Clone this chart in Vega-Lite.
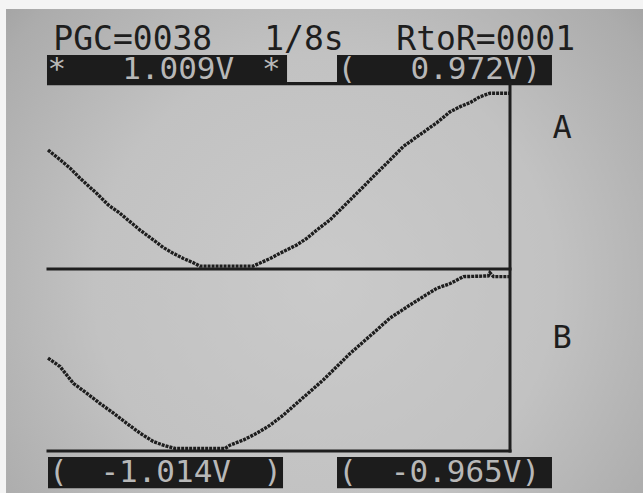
{
  "$schema": "https://vega.github.io/schema/vega-lite/v6.json",
  "width": 462,
  "height": 364,
  "autosize": {"type": "none"},
  "padding": {"left": 48, "top": 87, "right": 133, "bottom": 42},
  "background": "#f4f4f4",
  "config": {"view": {"stroke": null}},
  "data": {"values": [{"screen": "LCD"}]},
  "datasets": {
    "traces": [
      {"ch": "A", "t": 0, "v": 82.7}, {"ch": "A", "t": 2.6, "v": 80.4}, {"ch": "A", "t": 5.5, "v": 77.7},
      {"ch": "A", "t": 8, "v": 74.9}, {"ch": "A", "t": 12.1, "v": 70.8}, {"ch": "A", "t": 15, "v": 67.6},
      {"ch": "A", "t": 17.9, "v": 65.3}, {"ch": "A", "t": 20.4, "v": 63.0}, {"ch": "A", "t": 22.9, "v": 60.7},
      {"ch": "A", "t": 26.2, "v": 58.0}, {"ch": "A", "t": 28.7, "v": 55.9}, {"ch": "A", "t": 31.2, "v": 54.3},
      {"ch": "A", "t": 33.7, "v": 52.9}, {"ch": "A", "t": 36.2, "v": 51.7}, {"ch": "A", "t": 37.8, "v": 50.8},
      {"ch": "A", "t": 51.1, "v": 50.8}, {"ch": "A", "t": 55.3, "v": 52.9}, {"ch": "A", "t": 58.6, "v": 54.8},
      {"ch": "A", "t": 61.9, "v": 56.6}, {"ch": "A", "t": 64.4, "v": 58.4}, {"ch": "A", "t": 66.9, "v": 60.7},
      {"ch": "A", "t": 70.2, "v": 63.5}, {"ch": "A", "t": 73.5, "v": 67.1}, {"ch": "A", "t": 78.5, "v": 72.6},
      {"ch": "A", "t": 81.8, "v": 76.3}, {"ch": "A", "t": 85.1, "v": 79.9}, {"ch": "A", "t": 88.4, "v": 83.6},
      {"ch": "A", "t": 91.8, "v": 86.3}, {"ch": "A", "t": 96.8, "v": 90.2}, {"ch": "A", "t": 100.1, "v": 93.2},
      {"ch": "A", "t": 102.6, "v": 94.6}, {"ch": "A", "t": 105, "v": 95.7}, {"ch": "A", "t": 107.5, "v": 97.3},
      {"ch": "A", "t": 110, "v": 98.3}, {"ch": "A", "t": 115, "v": 98.3},
      {"ch": "B", "t": 0, "v": 25.5}, {"ch": "B", "t": 3, "v": 23.2}, {"ch": "B", "t": 6.3, "v": 18.6},
      {"ch": "B", "t": 9.6, "v": 15.9}, {"ch": "B", "t": 12.9, "v": 13.1}, {"ch": "B", "t": 16.3, "v": 10.4},
      {"ch": "B", "t": 19.6, "v": 7.6}, {"ch": "B", "t": 22.9, "v": 4.9}, {"ch": "B", "t": 26.2, "v": 2.6},
      {"ch": "B", "t": 28.7, "v": 1.6}, {"ch": "B", "t": 31.6, "v": 0.7}, {"ch": "B", "t": 44.1, "v": 0.7},
      {"ch": "B", "t": 45.3, "v": 1.6}, {"ch": "B", "t": 48.6, "v": 3.0}, {"ch": "B", "t": 52, "v": 4.9},
      {"ch": "B", "t": 55.3, "v": 7.1}, {"ch": "B", "t": 58.6, "v": 9.9}, {"ch": "B", "t": 61.9, "v": 13.1},
      {"ch": "B", "t": 65.2, "v": 16.3}, {"ch": "B", "t": 68.5, "v": 19.5}, {"ch": "B", "t": 71.9, "v": 23.2},
      {"ch": "B", "t": 75.2, "v": 26.8}, {"ch": "B", "t": 78.5, "v": 30.0}, {"ch": "B", "t": 81.8, "v": 33.2},
      {"ch": "B", "t": 85.1, "v": 36.5}, {"ch": "B", "t": 90.1, "v": 40.1}, {"ch": "B", "t": 93.4, "v": 42.4},
      {"ch": "B", "t": 96.8, "v": 44.7}, {"ch": "B", "t": 100.1, "v": 46.0}, {"ch": "B", "t": 103.4, "v": 47.9},
      {"ch": "B", "t": 109.6, "v": 48.1}, {"ch": "B", "t": 110, "v": 49.0}, {"ch": "B", "t": 110.9, "v": 47.9},
      {"ch": "B", "t": 115, "v": 47.9}
    ]
  },
  "layer": [
    {
      "mark": {"type": "rect", "color": {"gradient": "radial", "x1": 0.5, "y1": 0.55, "r1": 0, "x2": 0.5, "y2": 0.55, "r2": 0.72, "stops": [{"offset": 0, "color": "#cacaca"}, {"offset": 0.5, "color": "#c2c2c2"}, {"offset": 0.85, "color": "#acacac"}, {"offset": 1, "color": "#9c9c9c"}]}},
      "encoding": {
        "x": {"datum": -10.45, "type": "quantitative", "scale": {"domain": [0, 115], "nice": false, "zero": false}, "axis": null},
        "x2": {"datum": 148.2},
        "y": {"datum": 121.4, "type": "quantitative", "scale": {"domain": [0, 100], "nice": false, "zero": false}, "axis": null},
        "y2": {"datum": -11.6}
      }
    },
    {
      "mark": {"type": "rect", "color": "#1c1c1c"},
      "encoding": {
        "x": {"datum": -0.25, "type": "quantitative", "scale": {"domain": [0, 115], "nice": false, "zero": false}, "axis": null},
        "x2": {"datum": 59.5},
        "y": {"datum": 108.8, "type": "quantitative", "scale": {"domain": [0, 100], "nice": false, "zero": false}, "axis": null},
        "y2": {"datum": 100.5}
      }
    },
    {
      "mark": {"type": "rect", "color": "#1c1c1c"},
      "encoding": {
        "x": {"datum": 59.5, "type": "quantitative", "scale": {"domain": [0, 115], "nice": false, "zero": false}, "axis": null},
        "x2": {"datum": 71.94},
        "y": {"datum": 101.4, "type": "quantitative", "scale": {"domain": [0, 100], "nice": false, "zero": false}, "axis": null},
        "y2": {"datum": 100.5}
      }
    },
    {
      "mark": {"type": "rect", "color": "#1c1c1c"},
      "encoding": {
        "x": {"datum": 71.94, "type": "quantitative", "scale": {"domain": [0, 115], "nice": false, "zero": false}, "axis": null},
        "x2": {"datum": 125.45},
        "y": {"datum": 108.8, "type": "quantitative", "scale": {"domain": [0, 100], "nice": false, "zero": false}, "axis": null},
        "y2": {"datum": 100.5}
      }
    },
    {
      "mark": {"type": "rect", "color": "#1c1c1c"},
      "encoding": {
        "x": {"datum": 0, "type": "quantitative", "scale": {"domain": [0, 115], "nice": false, "zero": false}, "axis": null},
        "x2": {"datum": 58.5},
        "y": {"datum": -1.65, "type": "quantitative", "scale": {"domain": [0, 100], "nice": false, "zero": false}, "axis": null},
        "y2": {"datum": -10.2}
      }
    },
    {
      "mark": {"type": "rect", "color": "#1c1c1c"},
      "encoding": {
        "x": {"datum": 71.94, "type": "quantitative", "scale": {"domain": [0, 115], "nice": false, "zero": false}, "axis": null},
        "x2": {"datum": 125.45},
        "y": {"datum": -1.65, "type": "quantitative", "scale": {"domain": [0, 100], "nice": false, "zero": false}, "axis": null},
        "y2": {"datum": -10.2}
      }
    },
    {
      "mark": {"type": "rule", "color": "#1e1e1e", "strokeWidth": 3, "strokeCap": "square"},
      "encoding": {
        "x": {"datum": 0, "type": "quantitative", "scale": {"domain": [0, 115], "nice": false, "zero": false}, "axis": null},
        "x2": {"datum": 115},
        "y": {"datum": 50, "type": "quantitative", "scale": {"domain": [0, 100], "nice": false, "zero": false}, "axis": null}
      }
    },
    {
      "mark": {"type": "rule", "color": "#1e1e1e", "strokeWidth": 3, "strokeCap": "square"},
      "encoding": {
        "x": {"datum": 0, "type": "quantitative", "scale": {"domain": [0, 115], "nice": false, "zero": false}, "axis": null},
        "x2": {"datum": 115},
        "y": {"datum": 0, "type": "quantitative", "scale": {"domain": [0, 100], "nice": false, "zero": false}, "axis": null}
      }
    },
    {
      "mark": {"type": "rule", "color": "#1e1e1e", "strokeWidth": 3, "strokeCap": "square"},
      "encoding": {
        "x": {"datum": 115, "type": "quantitative", "scale": {"domain": [0, 115], "nice": false, "zero": false}, "axis": null},
        "y": {"datum": 101.2, "type": "quantitative", "scale": {"domain": [0, 100], "nice": false, "zero": false}, "axis": null},
        "y2": {"datum": 0}
      }
    },
    {
      "data": {"name": "traces"},
      "mark": {"type": "line", "strokeWidth": 3.4, "strokeDash": [3, 1], "clip": false},
      "encoding": {
        "x": {"field": "t", "type": "quantitative", "scale": {"domain": [0, 115], "nice": false, "zero": false}, "axis": null},
        "y": {"field": "v", "type": "quantitative", "scale": {"domain": [0, 100], "nice": false, "zero": false}, "axis": null},
        "detail": {"field": "ch", "type": "nominal"},
        "color": {"value": "#1e1e1e"}
      }
    },
    {
      "mark": {"type": "text", "text": "PGC=0038", "font": "DejaVu Sans Mono", "fontSize": 33, "color": "#1e1e1e", "align": "center", "baseline": "alphabetic"},
      "encoding": {
        "x": {"datum": 21.1, "type": "quantitative", "scale": {"domain": [0, 115], "nice": false, "zero": false}, "axis": null},
        "y": {"datum": 110.2, "type": "quantitative", "scale": {"domain": [0, 100], "nice": false, "zero": false}, "axis": null}
      }
    },
    {
      "mark": {"type": "text", "text": "1/8s", "font": "DejaVu Sans Mono", "fontSize": 33, "color": "#1e1e1e", "align": "center", "baseline": "alphabetic"},
      "encoding": {
        "x": {"datum": 63.7, "type": "quantitative", "scale": {"domain": [0, 115], "nice": false, "zero": false}, "axis": null},
        "y": {"datum": 110.2, "type": "quantitative", "scale": {"domain": [0, 100], "nice": false, "zero": false}, "axis": null}
      }
    },
    {
      "mark": {"type": "text", "text": "RtoR=0001", "font": "DejaVu Sans Mono", "fontSize": 33, "color": "#1e1e1e", "align": "center", "baseline": "alphabetic"},
      "encoding": {
        "x": {"datum": 108.95, "type": "quantitative", "scale": {"domain": [0, 115], "nice": false, "zero": false}, "axis": null},
        "y": {"datum": 110.2, "type": "quantitative", "scale": {"domain": [0, 100], "nice": false, "zero": false}, "axis": null}
      }
    },
    {
      "mark": {"type": "text", "text": "*", "font": "DejaVu Sans Mono", "fontSize": 31, "color": "#b8b8b8", "align": "center", "baseline": "alphabetic"},
      "encoding": {
        "x": {"datum": 2.2, "type": "quantitative", "scale": {"domain": [0, 115], "nice": false, "zero": false}, "axis": null},
        "y": {"datum": 102.2, "type": "quantitative", "scale": {"domain": [0, 100], "nice": false, "zero": false}, "axis": null}
      }
    },
    {
      "mark": {"type": "text", "text": "1.009V", "font": "DejaVu Sans Mono", "fontSize": 31, "color": "#b8b8b8", "align": "center", "baseline": "alphabetic"},
      "encoding": {
        "x": {"datum": 32.4, "type": "quantitative", "scale": {"domain": [0, 115], "nice": false, "zero": false}, "axis": null},
        "y": {"datum": 102.2, "type": "quantitative", "scale": {"domain": [0, 100], "nice": false, "zero": false}, "axis": null}
      }
    },
    {
      "mark": {"type": "text", "text": "*", "font": "DejaVu Sans Mono", "fontSize": 31, "color": "#b8b8b8", "align": "center", "baseline": "alphabetic"},
      "encoding": {
        "x": {"datum": 55.6, "type": "quantitative", "scale": {"domain": [0, 115], "nice": false, "zero": false}, "axis": null},
        "y": {"datum": 102.2, "type": "quantitative", "scale": {"domain": [0, 100], "nice": false, "zero": false}, "axis": null}
      }
    },
    {
      "mark": {"type": "text", "text": "(", "font": "DejaVu Sans Mono", "fontSize": 31, "color": "#b8b8b8", "align": "center", "baseline": "alphabetic"},
      "encoding": {
        "x": {"datum": 74.4, "type": "quantitative", "scale": {"domain": [0, 115], "nice": false, "zero": false}, "axis": null},
        "y": {"datum": 102.2, "type": "quantitative", "scale": {"domain": [0, 100], "nice": false, "zero": false}, "axis": null}
      }
    },
    {
      "mark": {"type": "text", "text": "0.972V)", "font": "DejaVu Sans Mono", "fontSize": 31, "color": "#b8b8b8", "align": "center", "baseline": "alphabetic"},
      "encoding": {
        "x": {"datum": 106.5, "type": "quantitative", "scale": {"domain": [0, 115], "nice": false, "zero": false}, "axis": null},
        "y": {"datum": 102.2, "type": "quantitative", "scale": {"domain": [0, 100], "nice": false, "zero": false}, "axis": null}
      }
    },
    {
      "mark": {"type": "text", "text": "(", "font": "DejaVu Sans Mono", "fontSize": 31, "color": "#b8b8b8", "align": "center", "baseline": "alphabetic"},
      "encoding": {
        "x": {"datum": 2.6, "type": "quantitative", "scale": {"domain": [0, 115], "nice": false, "zero": false}, "axis": null},
        "y": {"datum": -8.5, "type": "quantitative", "scale": {"domain": [0, 100], "nice": false, "zero": false}, "axis": null}
      }
    },
    {
      "mark": {"type": "text", "text": "-1.014V", "font": "DejaVu Sans Mono", "fontSize": 31, "color": "#b8b8b8", "align": "center", "baseline": "alphabetic"},
      "encoding": {
        "x": {"datum": 29.3, "type": "quantitative", "scale": {"domain": [0, 115], "nice": false, "zero": false}, "axis": null},
        "y": {"datum": -8.5, "type": "quantitative", "scale": {"domain": [0, 100], "nice": false, "zero": false}, "axis": null}
      }
    },
    {
      "mark": {"type": "text", "text": ")", "font": "DejaVu Sans Mono", "fontSize": 31, "color": "#b8b8b8", "align": "center", "baseline": "alphabetic"},
      "encoding": {
        "x": {"datum": 55.9, "type": "quantitative", "scale": {"domain": [0, 115], "nice": false, "zero": false}, "axis": null},
        "y": {"datum": -8.5, "type": "quantitative", "scale": {"domain": [0, 100], "nice": false, "zero": false}, "axis": null}
      }
    },
    {
      "mark": {"type": "text", "text": "(", "font": "DejaVu Sans Mono", "fontSize": 31, "color": "#b8b8b8", "align": "center", "baseline": "alphabetic"},
      "encoding": {
        "x": {"datum": 74.6, "type": "quantitative", "scale": {"domain": [0, 115], "nice": false, "zero": false}, "axis": null},
        "y": {"datum": -8.5, "type": "quantitative", "scale": {"domain": [0, 100], "nice": false, "zero": false}, "axis": null}
      }
    },
    {
      "mark": {"type": "text", "text": "-0.965V)", "font": "DejaVu Sans Mono", "fontSize": 31, "color": "#b8b8b8", "align": "center", "baseline": "alphabetic"},
      "encoding": {
        "x": {"datum": 103.9, "type": "quantitative", "scale": {"domain": [0, 115], "nice": false, "zero": false}, "axis": null},
        "y": {"datum": -8.5, "type": "quantitative", "scale": {"domain": [0, 100], "nice": false, "zero": false}, "axis": null}
      }
    },
    {
      "mark": {"type": "text", "text": "A", "font": "DejaVu Sans Mono", "fontSize": 32, "color": "#1e1e1e", "align": "center", "baseline": "alphabetic"},
      "encoding": {
        "x": {"datum": 128, "type": "quantitative", "scale": {"domain": [0, 115], "nice": false, "zero": false}, "axis": null},
        "y": {"datum": 86, "type": "quantitative", "scale": {"domain": [0, 100], "nice": false, "zero": false}, "axis": null}
      }
    },
    {
      "mark": {"type": "text", "text": "B", "font": "DejaVu Sans Mono", "fontSize": 32, "color": "#1e1e1e", "align": "center", "baseline": "alphabetic"},
      "encoding": {
        "x": {"datum": 128, "type": "quantitative", "scale": {"domain": [0, 115], "nice": false, "zero": false}, "axis": null},
        "y": {"datum": 28.3, "type": "quantitative", "scale": {"domain": [0, 100], "nice": false, "zero": false}, "axis": null}
      }
    }
  ]
}
